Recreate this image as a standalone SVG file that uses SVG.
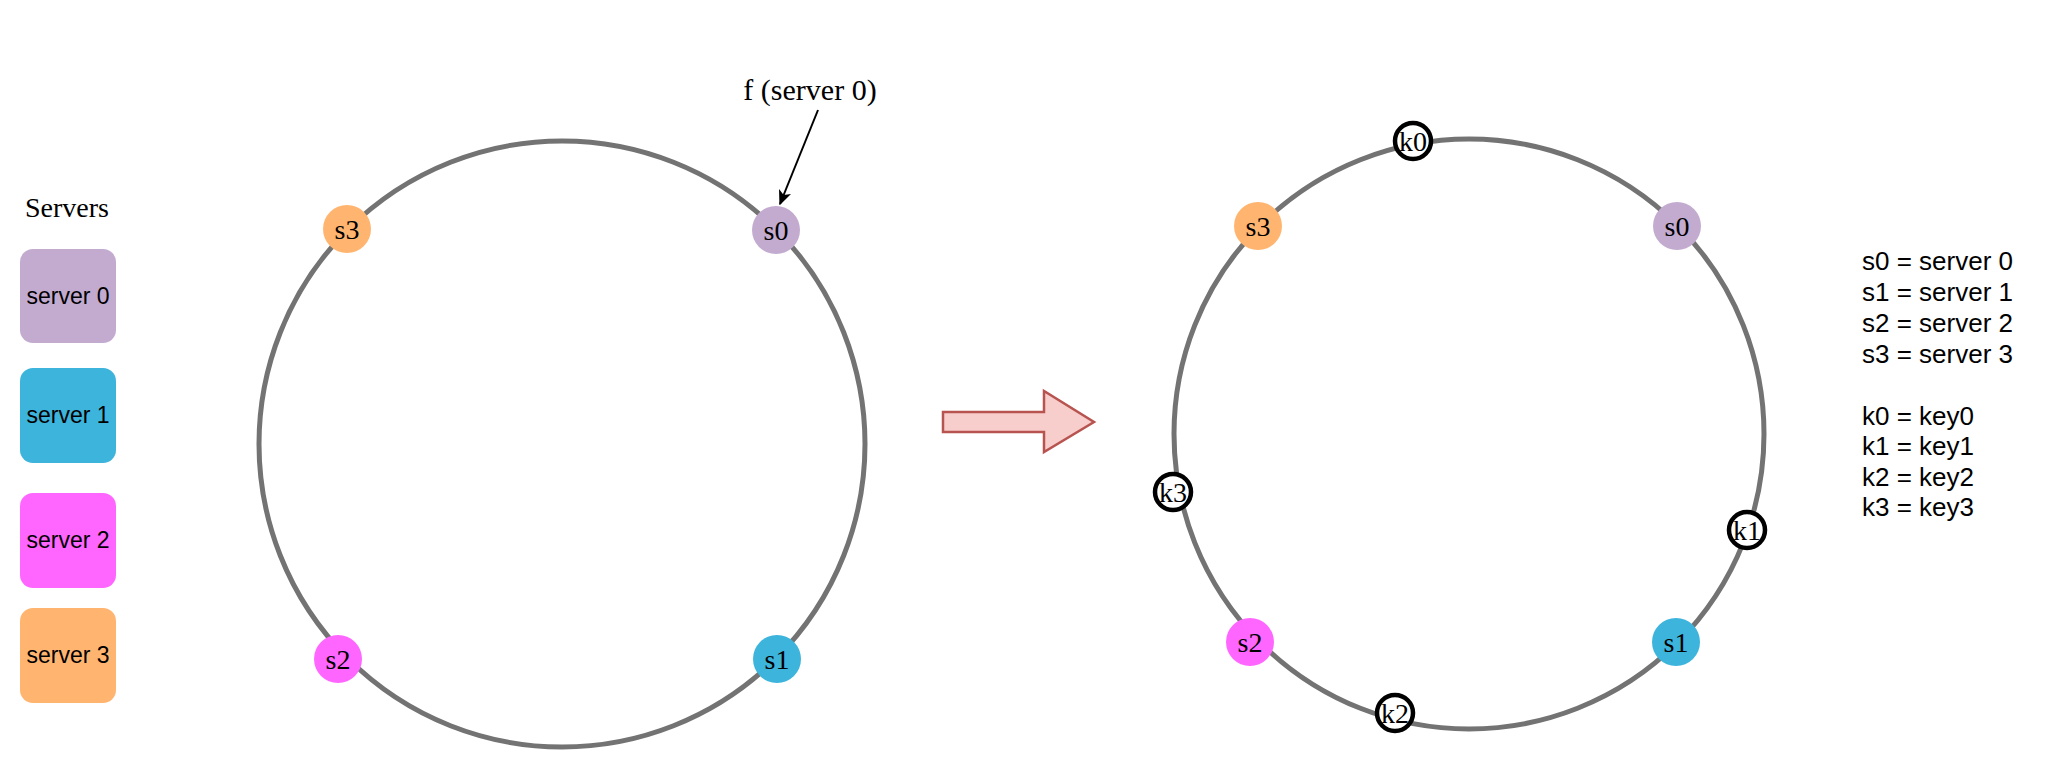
<svg xmlns="http://www.w3.org/2000/svg" width="2046" height="784" viewBox="0 0 2046 784">
<defs>
<marker id="ah" viewBox="0 0 10 10" refX="9" refY="5" markerWidth="15" markerHeight="13" markerUnits="userSpaceOnUse" orient="auto" preserveAspectRatio="none">
<path d="M0,0 L10,5 L0,10 L2.5,5 Z" fill="#000"/>
</marker>
</defs>
<style>
.ring{fill:none;stroke:#737373;stroke-width:5}
.serif{font-family:"Liberation Serif","Times New Roman",serif;fill:#000}
.sans{font-family:"Liberation Sans",Arial,sans-serif;fill:#000}
.lbl{font-size:28px;text-anchor:middle;dominant-baseline:central}
.key circle{fill:#fff;stroke:#000;stroke-width:4.5}
.box text{font-size:23px;text-anchor:middle;dominant-baseline:central}
.c0{fill:#C3ABD0}.c1{fill:#3CB4DC}.c2{fill:#FF66FF}.c3{fill:#FFB570}
.legend text{font-size:26px}
</style>
<rect width="2046" height="784" fill="#fff"/>

<g id="legend-servers">
<text class="serif" x="67" y="207" font-size="28" text-anchor="middle" dominant-baseline="central">Servers</text>
<g id="box-server0" class="box"><rect class="c0" x="20" y="249" width="96" height="94" rx="13"/><text class="sans" x="68" y="296">server 0</text></g>
<g id="box-server1" class="box"><rect class="c1" x="20" y="368" width="96" height="95" rx="13"/><text class="sans" x="68" y="415">server 1</text></g>
<g id="box-server2" class="box"><rect class="c2" x="20" y="493" width="96" height="95" rx="13"/><text class="sans" x="68" y="540">server 2</text></g>
<g id="box-server3" class="box"><rect class="c3" x="20" y="608" width="96" height="95" rx="13"/><text class="sans" x="68" y="655">server 3</text></g>
</g>

<g id="ring-left"><circle class="ring" cx="562" cy="444" r="303"/></g>
<g id="ring-right"><circle class="ring" cx="1469" cy="434" r="295"/></g>

<g id="connectors">
<line x1="818" y1="110" x2="780" y2="204" stroke="#000" stroke-width="2" marker-end="url(#ah)"/>
<polygon points="943,412 1044,412 1044,391 1094,422 1044,452 1044,432 943,432" fill="#F8CECC" stroke="#B85450" stroke-width="2.5" stroke-linejoin="miter"/>
</g>

<g id="label-f">
<text class="serif" x="810" y="89" font-size="30" text-anchor="middle" dominant-baseline="central">f (server 0)</text>
</g>

<g id="left-s0"><circle class="c0" cx="776" cy="230" r="24"/><text class="serif lbl" x="776" y="230">s0</text></g>
<g id="left-s1"><circle class="c1" cx="777" cy="659" r="24"/><text class="serif lbl" x="777" y="659">s1</text></g>
<g id="left-s2"><circle class="c2" cx="338" cy="659" r="24"/><text class="serif lbl" x="338" y="659">s2</text></g>
<g id="left-s3"><circle class="c3" cx="347" cy="229" r="24"/><text class="serif lbl" x="347" y="229">s3</text></g>

<g id="right-s0"><circle class="c0" cx="1677" cy="226" r="24"/><text class="serif lbl" x="1677" y="226">s0</text></g>
<g id="right-s1"><circle class="c1" cx="1676" cy="642" r="24"/><text class="serif lbl" x="1676" y="642">s1</text></g>
<g id="right-s2"><circle class="c2" cx="1250" cy="642" r="24"/><text class="serif lbl" x="1250" y="642">s2</text></g>
<g id="right-s3"><circle class="c3" cx="1258" cy="226" r="24"/><text class="serif lbl" x="1258" y="226">s3</text></g>

<g id="k0" class="key"><circle cx="1413" cy="141" r="18"/><text class="serif lbl" x="1413" y="141" font-size="27">k0</text></g>
<g id="k1" class="key"><circle cx="1747" cy="530" r="18"/><text class="serif lbl" x="1747" y="530" font-size="27">k1</text></g>
<g id="k2" class="key"><circle cx="1395" cy="713" r="18"/><text class="serif lbl" x="1395" y="713" font-size="27">k2</text></g>
<g id="k3" class="key"><circle cx="1173" cy="492" r="18"/><text class="serif lbl" x="1173" y="492" font-size="27">k3</text></g>

<g id="legend-right" class="legend">
<text class="sans" x="1862" y="270">s0 = server 0</text>
<text class="sans" x="1862" y="301">s1 = server 1</text>
<text class="sans" x="1862" y="332">s2 = server 2</text>
<text class="sans" x="1862" y="363">s3 = server 3</text>
<text class="sans" x="1862" y="425">k0 = key0</text>
<text class="sans" x="1862" y="455">k1 = key1</text>
<text class="sans" x="1862" y="486">k2 = key2</text>
<text class="sans" x="1862" y="516">k3 = key3</text>
</g>
</svg>
